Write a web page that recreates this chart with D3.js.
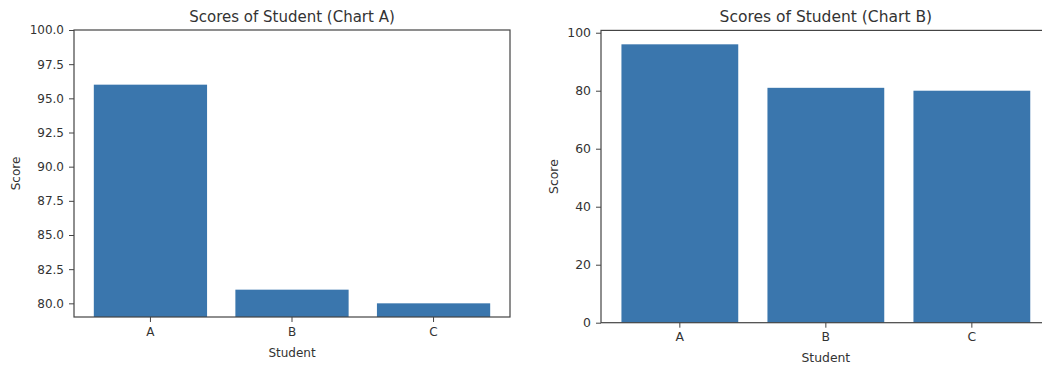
<!DOCTYPE html>
<html><head><meta charset="utf-8">
<script src="https://cdn.jsdelivr.net/npm/d3@7"></script>
<style>
html,body{margin:0;padding:0;background:#fff;}
svg{display:block;}
text{font-family:"DejaVu Sans",sans-serif;fill:#333;}
</style></head>
<body>
<svg id="chart" width="1042" height="365"></svg>
<script>
const students = ["A", "B", "C"];
const scores = [96, 81, 80];
const ticksA = [80, 82.5, 85, 87.5, 90, 92.5, 95, 97.5, 100];
const ticksB = [0, 20, 40, 60, 80, 100];
const titles = ["Scores of Student (Chart A)", "Scores of Student (Chart B)"];

const svg = d3.select("#chart");
const barColor = "#3a76ad";
const axisColor = "#444";

function panel(cfg) {
  const g = svg.append("g");
  const x = d3.scaleBand().domain(students).range([cfg.left, cfg.right])
    .paddingInner(0.2).paddingOuter(0.14);
  const y = d3.scaleLinear().domain(cfg.ydom).range([cfg.bottom, cfg.top]);

  g.selectAll("rect.bar").data(students).join("rect")
    .attr("class", "bar")
    .attr("x", d => x(d))
    .attr("width", x.bandwidth())
    .attr("y", (d, i) => y(scores[i]))
    .attr("height", (d, i) => y(cfg.ydom[0]) - y(scores[i]))
    .attr("fill", barColor);

  // frame
  g.append("rect")
    .attr("x", cfg.left).attr("y", cfg.top)
    .attr("width", cfg.right - cfg.left).attr("height", cfg.bottom - cfg.top)
    .attr("fill", "none").attr("stroke", axisColor).attr("stroke-width", 1.2);

  const yAxis = d3.axisLeft(y).tickValues(cfg.ticks).tickFormat(cfg.fmt)
    .tickSize(5).tickPadding(5).tickSizeOuter(0);
  const ya = g.append("g").attr("transform", `translate(${cfg.left},0)`).call(yAxis);
  ya.select(".domain").remove();
  ya.selectAll("line").attr("stroke", axisColor);
  ya.selectAll("text").attr("font-size", cfg.fs).attr("fill", "#333");

  const xAxis = d3.axisBottom(x).tickSize(5).tickPadding(5).tickSizeOuter(0);
  const xa = g.append("g").attr("transform", `translate(0,${cfg.bottom})`).call(xAxis);
  xa.select(".domain").remove();
  xa.selectAll("line").attr("stroke", axisColor);
  xa.selectAll("text").attr("font-size", cfg.fs).attr("fill", "#333");

  const cx = (cfg.left + cfg.right) / 2;
  g.append("text").attr("x", cx).attr("y", cfg.titleY)
    .attr("text-anchor", "middle").attr("font-size", cfg.tfs).text(cfg.title);
  g.append("text").attr("x", cx).attr("y", cfg.xlabY)
    .attr("text-anchor", "middle").attr("font-size", cfg.fs).text("Student");
  g.append("text")
    .attr("transform", `translate(${cfg.ylabX},${(cfg.top + cfg.bottom) / 2}) rotate(-90)`)
    .attr("text-anchor", "middle").attr("font-size", cfg.fs).text("Score");
}

panel({left: 74, right: 510, top: 30, bottom: 317, ydom: [79, 100], ticks: ticksA,
  fmt: d3.format(".1f"), title: titles[0], titleY: 22, xlabY: 357, ylabX: 20,
  fs: 12, tfs: 15});
panel({left: 601, right: 1050.7, top: 30.4, bottom: 322.7, ydom: [0, 100.8], ticks: ticksB,
  fmt: d3.format("d"), title: titles[1], titleY: 22, xlabY: 362, ylabX: 558,
  fs: 12.4, tfs: 15.5});
</script>
</body></html>
